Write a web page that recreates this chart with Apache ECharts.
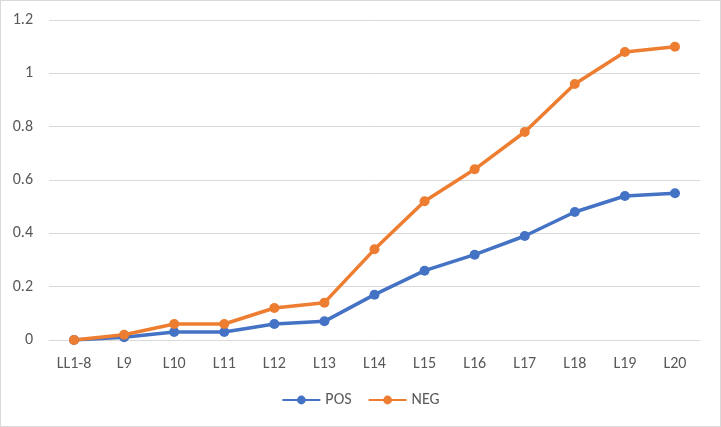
<!DOCTYPE html>
<html>
<head>
<meta charset="utf-8">
<script src="https://cdn.jsdelivr.net/npm/echarts@6/dist/echarts.min.js"></script>
<style>
html, body { margin: 0; padding: 0; background: #fff; }
#main { width: 719px; height: 425px; border: 1px solid #d9d9d9; }
</style>
</head>
<body>
<div id="main"></div>
<script>
var categories = ['LL1-8', 'L9', 'L10', 'L11', 'L12', 'L13', 'L14', 'L15', 'L16', 'L17', 'L18', 'L19', 'L20'];
var posValues = [0, 0.01, 0.03, 0.03, 0.06, 0.07, 0.17, 0.26, 0.32, 0.39, 0.48, 0.54, 0.55];
var negValues = [0, 0.02, 0.06, 0.06, 0.12, 0.14, 0.34, 0.52, 0.64, 0.78, 0.96, 1.08, 1.10];

var font = 'Calibri, Carlito, "Open Sans", sans-serif';

function makeSeries(name, data, color) {
    return {
        name: name,
        type: 'line',
        data: data,
        symbol: 'circle',
        symbolSize: 10,
        lineStyle: { width: 3.5, color: color },
        itemStyle: { color: color },
        animation: false
    };
}

var option = {
    animation: false,
    grid: { left: 48, right: 20, top: 19, bottom: 86 },
    legend: {
        bottom: 13,
        left: 'center',
        itemWidth: 38,
        itemHeight: 11,
        itemGap: 16,
        textStyle: { color: '#595959', fontSize: 16, fontFamily: font },
        data: ['POS', 'NEG']
    },
    xAxis: {
        type: 'category',
        data: categories,
        boundaryGap: true,
        axisLine: { lineStyle: { color: '#d9d9d9', width: 1 } },
        axisTick: { show: false },
        axisLabel: { color: '#595959', fontSize: 16, fontFamily: font, margin: 16 }
    },
    yAxis: {
        type: 'value',
        min: 0,
        max: 1.2,
        interval: 0.2,
        axisLine: { show: false },
        axisTick: { show: false },
        splitLine: { lineStyle: { color: '#d9d9d9', width: 1 } },
        axisLabel: {
            color: '#595959', fontSize: 16, fontFamily: font, margin: 16,
            formatter: function (v) { return String(Math.round(v * 10) / 10); }
        }
    },
    series: [
        makeSeries('POS', posValues, '#4472c4'),
        makeSeries('NEG', negValues, '#ed7d31')
    ]
};

echarts.init(document.getElementById('main')).setOption(option);
</script>
</body>
</html>
